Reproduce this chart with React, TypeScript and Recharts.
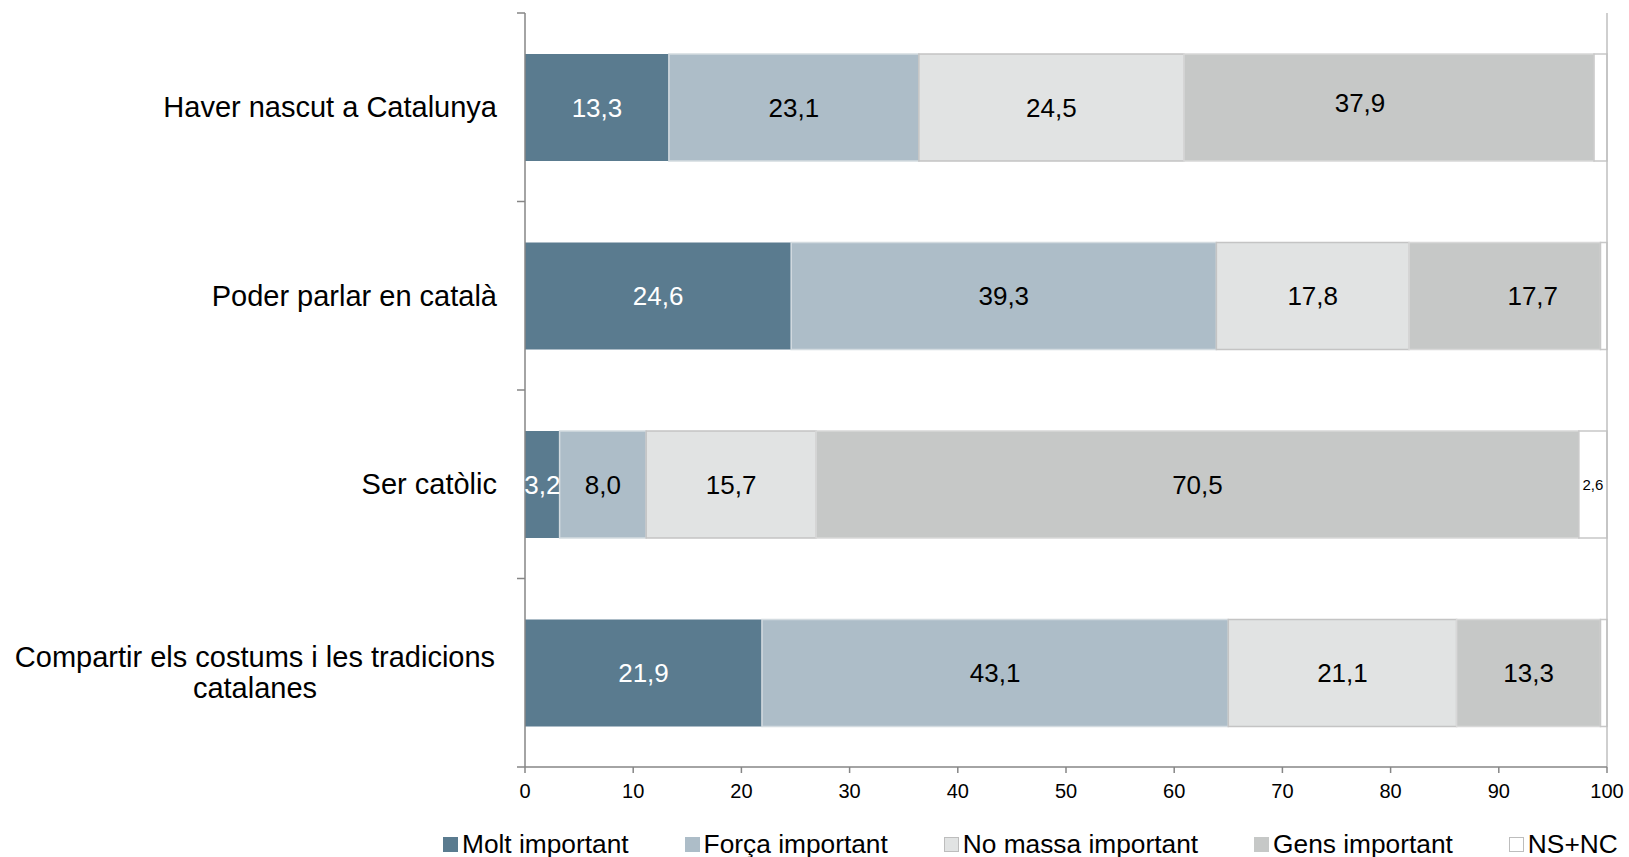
import React from 'react';
import { BarChart, Bar, XAxis, YAxis, LabelList, Legend, ReferenceLine } from 'recharts';

const categories = [
  'Haver nascut a Catalunya',
  'Poder parlar en català',
  'Ser catòlic',
  'Compartir els costums i les tradicions\ncatalanes',
];
const moltImportant = [13.3, 24.6, 3.2, 21.9];
const forcaImportant = [23.1, 39.3, 8.0, 43.1];
const noMassaImportant = [24.5, 17.8, 15.7, 21.1];
const gensImportant = [37.9, 17.7, 70.5, 13.3];
const nsNc = [1.2, 0.6, 2.6, 0.6];
const xTicks = [0, 10, 20, 30, 40, 50, 60, 70, 80, 90, 100];

const FONT = "'Liberation Sans', Arial, sans-serif";
const AXIS = '#868686';
const BORDER = '#bfbfbf';
const TICK_SIZE = 8;
const TICK_MARGIN = 20;

// labels in the original that were dragged off-centre (by category index)
const gensLabelNudge: Record<number, { dx: number; dy: number }> = {
  0: { dx: -29, dy: -5 },
  1: { dx: 28, dy: 0 },
};

const series = [
  { key: 'molt', name: 'Molt important', fill: '#5a7b8f', stroke: 'none', text: '#ffffff' },
  { key: 'forca', name: 'Força important', fill: '#adbdc8', stroke: '#d3dbe0', text: '#000000' },
  { key: 'noMassa', name: 'No massa important', fill: '#e1e3e3', stroke: '#c4c4c4', text: '#000000' },
  { key: 'gens', name: 'Gens important', fill: '#c6c8c7', stroke: '#d8d8d8', text: '#000000' },
  { key: 'ns', name: 'NS+NC', fill: '#ffffff', stroke: '#c8c8c8', text: '#000000' },
];

const data = categories.map((name, i) => ({
  name,
  molt: moltImportant[i],
  forca: forcaImportant[i],
  noMassa: noMassaImportant[i],
  gens: gensImportant[i],
  ns: nsNc[i],
}));

const fmt = (v: any) => Number(v).toFixed(1).replace('.', ',');

const YTick = (props: any) => {
  const { x, y, payload, index } = props;
  const half = payload.offset ?? 94;
  const axisX = x + TICK_SIZE + TICK_MARGIN;
  const lines = String(payload.value).split('\n');
  return (
    <g>
      <line x1={axisX - TICK_SIZE} x2={axisX} y1={y - half} y2={y - half} stroke={AXIS} strokeWidth={1.5} />
      {index === categories.length - 1 && (
        <line x1={axisX - TICK_SIZE} x2={axisX} y1={y + half} y2={y + half} stroke={AXIS} strokeWidth={1.5} />
      )}
      {lines.length === 1 ? (
        <text x={x} y={y} dy="0.35em" textAnchor="end" fontSize={29} fontFamily={FONT} fill="#000">
          {lines[0]}
        </text>
      ) : (
        <text x={x - 242} y={y} textAnchor="middle" fontSize={29} fontFamily={FONT} fill="#000">
          {lines.map((l, i) => (
            <tspan key={i} x={x - 242} y={y + (i - (lines.length - 1) / 2) * 31} dy="0.35em">
              {l}
            </tspan>
          ))}
        </text>
      )}
    </g>
  );
};

const NsLabel = (props: any) => {
  const { x, y, width, height, value } = props;
  if (Number(value) < 2) return null;
  return (
    <text x={x + width / 2} y={y + height / 2} dy="0.35em" textAnchor="middle" fontSize={15} fontFamily={FONT} fill="#000">
      {fmt(value)}
    </text>
  );
};

const GensLabel = (props: any) => {
  const { x, y, width, height, value, index } = props;
  const n = gensLabelNudge[index] ?? { dx: 0, dy: 0 };
  return (
    <text
      x={x + width / 2 + n.dx}
      y={y + height / 2 + n.dy}
      dy="0.35em"
      textAnchor="middle"
      fontSize={26}
      fontFamily={FONT}
      fill="#000"
    >
      {fmt(value)}
    </text>
  );
};

const LegendContent = () => (
  <div style={{ display: 'flex', alignItems: 'center', height: 34, fontFamily: FONT, fontSize: 26.3, color: '#000', whiteSpace: 'nowrap' }}>
    {series.map((s) => (
      <div key={s.key} style={{ display: 'flex', alignItems: 'center', marginRight: 56 }}>
        <span
          style={{
            display: 'inline-block',
            width: 15,
            height: 15,
            boxSizing: 'border-box',
            background: s.fill,
            border: s.stroke === 'none' ? 'none' : `1px solid ${s.key === 'forca' || s.key === 'gens' ? s.fill : '#bdbdbd'}`,
            marginRight: 4,
          }}
        />
        <span>{s.name}</span>
      </div>
    ))}
  </div>
);

export default function App() {
  return (
    <div style={{ position: 'absolute', left: 0, top: 0, width: 1629, height: 857, background: '#fff' }}>
      <BarChart
        width={1629}
        height={857}
        data={data}
        layout="vertical"
        barSize={107}
        margin={{ top: 13, right: 22, bottom: 50, left: 0 }}
      >
        <XAxis
          type="number"
          domain={[0, 100]}
          ticks={xTicks}
          interval={0}
          height={40}
          tickSize={6}
          tickMargin={11}
          axisLine={{ stroke: AXIS, strokeWidth: 1.5 }}
          tickLine={{ stroke: AXIS, strokeWidth: 1.5 }}
          tick={{ fontSize: 20, fill: '#000', fontFamily: FONT }}
        />
        <XAxis
          xAxisId="top"
          orientation="top"
          type="number"
          domain={[0, 100]}
          height={0}
          tick={false}
          tickLine={false}
          axisLine={{ stroke: BORDER, strokeWidth: 1.5 }}
        />
        <YAxis
          type="category"
          dataKey="name"
          width={525}
          interval={0}
          tickSize={TICK_SIZE}
          tickMargin={TICK_MARGIN}
          tickLine={false}
          axisLine={{ stroke: AXIS, strokeWidth: 1.5 }}
          tick={<YTick />}
        />
        {series.map((s) => (
          <Bar
            key={s.key}
            dataKey={s.key}
            name={s.name}
            stackId="a"
            fill={s.fill}
            stroke={s.stroke}
            strokeWidth={1.5}
            isAnimationActive={false}
          >
            {s.key === 'ns' ? (
              <LabelList dataKey={s.key} content={<NsLabel />} />
            ) : s.key === 'gens' ? (
              <LabelList dataKey={s.key} content={<GensLabel />} />
            ) : (
              <LabelList
                dataKey={s.key}
                position="center"
                formatter={fmt}
                fill={s.text}
                fontSize={26}
                fontFamily={FONT}
              />
            )}
          </Bar>
        ))}
        <ReferenceLine x={100} stroke={BORDER} strokeWidth={1.5} />
        <Legend
          layout="horizontal"
          verticalAlign="middle"
          align="center"
          wrapperStyle={{ top: 827, left: 443, width: 'auto', height: 34 }}
          content={<LegendContent />}
        />
      </BarChart>
    </div>
  );
}
